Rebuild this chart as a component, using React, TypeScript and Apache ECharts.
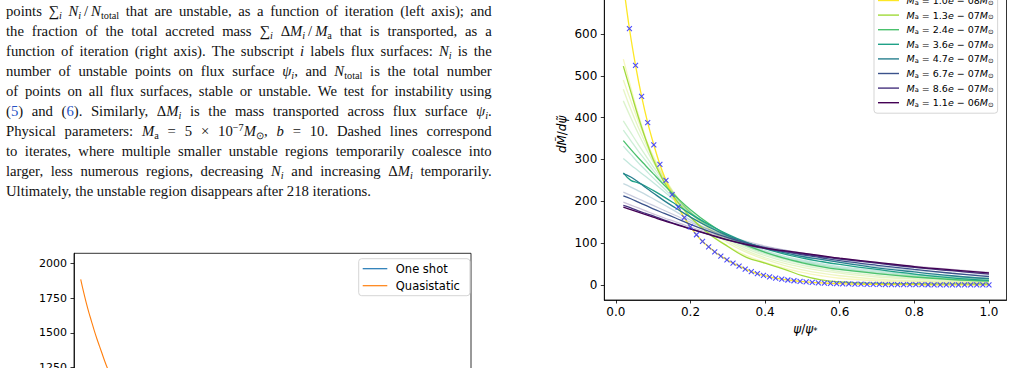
import React, { useEffect, useRef } from "react";
import * as echarts from "echarts";

// ---------- caption paragraph ----------
// markup: {i|..} italic, {s|..} roman subscript, {si|..} italic subscript,
// {p|..} superscript, {b|..} link-blue reference number
const CAPTION_LINES = [
  "points ∑{si|i} {i|N}{si|i}\u2009/\u2009{i|N}{s|total} that are unstable, as a function of iteration (left axis); and",
  "the fraction of the total accreted mass ∑{si|i} Δ{i|M}{si|i}\u2009/\u2009{i|M}{s|a} that is transported, as a",
  "function of iteration (right axis). The subscript {i|i} labels flux surfaces: {i|N}{si|i} is the",
  "number of unstable points on flux surface {i|ψ}{si|i}, and {i|N}{s|total} is the total number",
  "of points on all flux surfaces, stable or unstable. We test for instability using",
  "({b|5}) and ({b|6}). Similarly, Δ{i|M}{si|i} is the mass transported across flux surface {i|ψ}{si|i}.",
  "Physical parameters: {i|M}{s|a} = 5 × 10{p|−7}{i|M}{s|⊙}, {i|b} = 10. Dashed lines correspond",
  "to iterates, where multiple smaller unstable regions temporarily coalesce into",
  "larger, less numerous regions, decreasing {i|N}{si|i} and increasing Δ{i|M}{si|i} temporarily.",
  "Ultimately, the unstable region disappears after 218 iterations.",
];

// ---------- left panel: unstable points vs iteration ----------
const ITERATIONS = [0, 2, 4, 6, 8, 10, 12, 14, 16, 18, 20, 22, 24, 26];
const QUASISTATIC = [1885, 1800, 1722, 1650, 1585, 1520, 1460, 1405, 1350, 1295, 1245, 1200, 1155, 1115];
const ONE_SHOT: number[][] = [];
const ITER_Y_TICKS = [0, 250, 500, 750, 1000, 1250, 1500, 1750, 2000];

// ---------- right panel: dM/dψ profiles ----------
const PSI = [0.02, 0.04, 0.06, 0.08, 0.1, 0.13, 0.16, 0.2, 0.25, 0.3, 0.35, 0.4, 0.45, 0.5, 0.55, 0.6, 0.7, 0.8, 0.9, 1.0];

const MASS_LABELS = ["1.0e-08", "1.3e-07", "2.4e-07", "3.6e-07", "4.7e-07", "6.7e-07", "8.6e-07", "1.1e-06"];
const MASS_COLORS = ["#fde725", "#a0da39", "#4ac16d", "#1fa187", "#277f8e", "#3b528b", "#46327e", "#440154"];

const PROFILE_13E07 = [523, 462, 402, 348, 300, 245, 205, 162, 122, 92, 66, 52, 38, 22, 12, 7, 4, 3, 2.5, 2.2];
const PROFILE_24E07 = [345, 324, 304, 285, 266, 238, 212, 180, 146, 118, 95, 78, 64, 53, 44, 37, 27, 19, 13, 9];
const PROFILE_36E07 = [268, 250, 244, 236, 226, 210, 193, 170, 144, 121, 102, 87, 74, 64, 56, 49, 37, 26, 17, 11];
const PROFILE_47E07 = [266, 258, 246, 233, 220, 201, 184, 162, 138, 118, 101, 88, 77, 68, 61, 54, 41, 31, 22, 15];
const PROFILE_67E07 = [213, 206, 198, 190, 182, 171, 160, 145, 128, 113, 100, 89, 80, 72, 65, 58, 47, 37, 28, 20];
const PROFILE_86E07 = [190, 184, 177, 171, 165, 155, 146, 134, 120, 107, 96, 87, 80, 74, 68, 62, 52, 42, 34, 26];
const PROFILE_11E06 = [186, 180, 174, 168, 162, 153, 145, 134, 121, 108, 97, 88, 82, 76, 70, 64, 54, 44, 36, 29];

// lightest accretion: dense sampling, drawn as a line and as cross markers
const PROFILE_10E08 = [
  720, 613, 525, 451, 388, 335, 288, 250, 216, 186,
  161, 139, 120, 104, 91, 79, 69, 60, 52, 45,
  38, 32, 27, 23, 19.5, 16.5, 14, 11.8, 10, 8.5,
  7.2, 6.1, 5.2, 4.4, 3.7, 3.2, 2.7, 2.3, 2.0, 1.7,
  1.5, 1.3, 1.1, 1.0, 0.9, 0.8, 0.7, 0.6, 0.55, 0.5,
  0.45, 0.4, 0.38, 0.35, 0.33, 0.3, 0.28, 0.26, 0.25, 0.24, 0.23,
];
const PSI_FINE = PROFILE_10E08.map((_, k) => +(0.02 + (k * 0.98) / (PROFILE_10E08.length - 1)).toFixed(4));

// intermediate iterates (faint)
const ITERATE_COLORS = ["#e2e418", "#c2df23", "#a8db34", "#86d549", "#65cb5e", "#48c16e", "#2fb47c", "#23a983", "#2a788e", "#3e4989", "#482878"];
const ITERATE_PROFILES = [
  [540, 472, 408, 352, 303, 248, 206, 163, 124, 93, 70, 54, 41, 30, 22, 16, 10, 7, 5, 4],
  [490, 440, 392, 348, 308, 257, 215, 172, 133, 101, 78, 61, 47, 36, 28, 22, 14, 10, 7, 6],
  [468, 420, 377, 338, 301, 254, 214, 173, 135, 105, 82, 65, 52, 42, 34, 28, 19, 14, 10, 8],
  [440, 400, 362, 327, 294, 250, 212, 173, 138, 109, 87, 70, 57, 47, 39, 32, 23, 17, 13, 10],
  [392, 364, 336, 309, 283, 246, 212, 175, 141, 113, 91, 74, 61, 51, 43, 36, 27, 20, 15, 12],
  [370, 345, 320, 297, 274, 240, 209, 174, 141, 114, 93, 77, 64, 54, 46, 39, 29, 22, 17, 14],
  [332, 312, 292, 274, 256, 230, 204, 172, 141, 115, 95, 79, 66, 56, 48, 41, 31, 24, 19, 15],
  [302, 287, 273, 259, 245, 223, 200, 170, 141, 117, 98, 82, 69, 59, 51, 44, 34, 26, 21, 17],
  [242, 234, 225, 216, 206, 191, 176, 155, 132, 114, 99, 87, 77, 68, 61, 55, 44, 35, 28, 22],
  [222, 214, 206, 198, 190, 178, 166, 150, 132, 117, 104, 93, 84, 76, 69, 63, 52, 42, 34, 27],
  [198, 191, 184, 177, 170, 160, 151, 138, 124, 111, 100, 91, 83, 76, 70, 64, 54, 45, 37, 30],
];

const FLUX_X_TICKS = [0, 0.2, 0.4, 0.6, 0.8, 1.0];
const FLUX_Y_TICKS = [0, 100, 200, 300, 400, 500, 600];

// ---------- caption layout ----------
const SERIF = '"Liberation Serif", "Times New Roman", serif';
const TEXT_SIZE = 14.7;
const TEXT_LEFT = 6;
const TEXT_RIGHT = 491.7;
const FIRST_BASELINE = 16;
const LEADING = 20;
const CENTRAL = 0.3375; // central baseline above alphabetic, in em

const SEG: Record<string, { italic: boolean; scale: number; dy: number; color: string }> = {
  r: { italic: false, scale: 1, dy: 0, color: "#111" },
  i: { italic: true, scale: 1, dy: 0, color: "#111" },
  s: { italic: false, scale: 0.7, dy: 3, color: "#111" },
  si: { italic: true, scale: 0.7, dy: 3, color: "#111" },
  p: { italic: false, scale: 0.7, dy: -5.5, color: "#111" },
  b: { italic: false, scale: 1, dy: 0, color: "#2452c4" },
};

function captionElements() {
  const ctx = document.createElement("canvas").getContext("2d")!;
  const fontOf = (k: string) => {
    const st = SEG[k];
    return `${st.italic ? "italic " : ""}${(TEXT_SIZE * st.scale).toFixed(2)}px ${SERIF}`;
  };
  const measure = (k: string, t: string) => {
    ctx.font = fontOf(k);
    return ctx.measureText(t).width;
  };
  const parse = (word: string) => {
    const out: { k: string; t: string }[] = [];
    const re = /\{(\w+)\|([^}]*)\}|([^{]+)/g;
    let m: RegExpExecArray | null;
    while ((m = re.exec(word))) {
      if (m[3] !== undefined) out.push({ k: "r", t: m[3] });
      else out.push({ k: m[1], t: m[2] });
    }
    return out;
  };
  const els: any[] = [];
  CAPTION_LINES.forEach((line, li) => {
    const words = line.split(" ").map(parse);
    const widths = words.map((segs) => segs.reduce((a, s) => a + measure(s.k, s.t), 0));
    const total = widths.reduce((a, b) => a + b, 0);
    const last = li === CAPTION_LINES.length - 1;
    const gap = last ? measure("r", " ") : (TEXT_RIGHT - TEXT_LEFT - total) / (words.length - 1);
    const baseline = FIRST_BASELINE + li * LEADING;
    let x = TEXT_LEFT;
    words.forEach((segs, wi) => {
      let sx = x;
      segs.forEach((s) => {
        const st = SEG[s.k];
        const size = TEXT_SIZE * st.scale;
        els.push({
          type: "text",
          silent: true,
          x: sx,
          y: baseline + st.dy - CENTRAL * size,
          style: { text: s.t, font: fontOf(s.k), fill: st.color, align: "left", verticalAlign: "middle" },
        });
        sx += measure(s.k, s.t);
      });
      x += widths[wi] + gap;
    });
  });
  return els;
}

function massLegendLabel(name: string) {
  const [mant, exp] = name.split("e-");
  return `{i|M}{s|a}{r| = ${mant}}{i|e}{r| − ${exp}}{i|M}{s|⊙}`;
}

function buildOption() {
  const sans = "DejaVu Sans";
  const axisLine = { show: true, onZero: false, lineStyle: { color: "#000", width: 0.8 } };
  const pairs = (xs: number[], ys: number[]) => ys.map((v, i) => [xs[i], v]);

  const iterateSeries = ITERATE_PROFILES.map((ys, i) => ({
    type: "line",
    name: `iterate ${i + 1}`,
    xAxisIndex: 1,
    yAxisIndex: 1,
    data: pairs(PSI, ys),
    symbol: "none",
    smooth: 0.4,
    lineStyle: { color: ITERATE_COLORS[i], width: 1.3, opacity: 0.28 },
    itemStyle: { color: ITERATE_COLORS[i] },
    silent: true,
  }));

  const mainProfiles = [
    pairs(PSI_FINE, PROFILE_10E08),
    pairs(PSI, PROFILE_13E07),
    pairs(PSI, PROFILE_24E07),
    pairs(PSI, PROFILE_36E07),
    pairs(PSI, PROFILE_47E07),
    pairs(PSI, PROFILE_67E07),
    pairs(PSI, PROFILE_86E07),
    pairs(PSI, PROFILE_11E06),
  ];
  const massSeries = MASS_LABELS.map((name, i) => ({
    type: "line",
    name,
    xAxisIndex: 1,
    yAxisIndex: 1,
    data: mainProfiles[i],
    symbol: "none",
    smooth: 0.4,
    lineStyle: { color: MASS_COLORS[i], width: 1.3 },
    itemStyle: { color: MASS_COLORS[i] },
    silent: true,
  }));

  return {
    animation: false,
    backgroundColor: "#fff",
    textStyle: { fontFamily: sans },
    graphic: { elements: captionElements() },
    grid: [
      { left: 74, top: 253.3, width: 397, height: 399.8, show: true, borderColor: "#000", borderWidth: 0.8, outerBoundsMode: "none" },
      { left: 604.3, top: -31.3, width: 402.2, height: 331.3, show: true, borderColor: "#000", borderWidth: 0.8, outerBoundsMode: "none" },
    ],
    xAxis: [
      { gridIndex: 0, type: "value", min: -5, max: 291, show: false },
      {
        gridIndex: 1,
        type: "value",
        min: -0.031,
        max: 1.047,
        axisLine,
        axisTick: { show: true, length: 3.5, customValues: FLUX_X_TICKS, lineStyle: { color: "#000", width: 0.8 } },
        axisLabel: { customValues: FLUX_X_TICKS, formatter: (v: number) => v.toFixed(1), fontSize: 12, color: "#000", margin: 6 },
        splitLine: { show: false },
        name: "{i|ψ}{r|/}{i|ψ}{s|*}",
        nameLocation: "middle",
        nameGap: 21,
        nameTextStyle: {
          rich: {
            i: { fontStyle: "italic", fontSize: 12, color: "#000", lineHeight: 14 },
            r: { fontSize: 12, color: "#000", lineHeight: 14 },
            s: { fontSize: 8.5, color: "#000", lineHeight: 8, verticalAlign: "bottom" },
          },
        },
      },
    ],
    yAxis: [
      {
        gridIndex: 0,
        type: "value",
        min: -800,
        max: 2072,
        axisLine,
        axisTick: { show: true, length: 3.5, customValues: ITER_Y_TICKS, lineStyle: { color: "#000", width: 0.8 } },
        axisLabel: { customValues: ITER_Y_TICKS, formatter: (v: number) => String(v), fontSize: 11, color: "#000", margin: 7 },
        splitLine: { show: false },
      },
      {
        gridIndex: 1,
        type: "value",
        min: -36,
        max: 756,
        axisLine,
        axisTick: { show: true, length: 3.5, customValues: FLUX_Y_TICKS, lineStyle: { color: "#000", width: 0.8 } },
        axisLabel: { customValues: FLUX_Y_TICKS, formatter: (v: number) => String(v), fontSize: 12, color: "#000", margin: 7 },
        splitLine: { show: false },
        name: "{i|dM\u0303}{r|/}{i|dψ\u0303}",
        nameLocation: "middle",
        nameRotate: 90,
        nameGap: 36,
        nameTextStyle: {
          rich: {
            i: { fontStyle: "italic", fontSize: 12, color: "#000" },
            r: { fontSize: 12, color: "#000" },
          },
        },
      },
    ],
    legend: [
      {
        data: ["One shot", "Quasistatic"],
        orient: "vertical",
        left: 358.7,
        top: 258.7,
        padding: [4, 4, 4, 4],
        icon: "rect",
        itemWidth: 24.6,
        itemHeight: 1.2,
        itemGap: 5,
        backgroundColor: "rgba(255,255,255,0.8)",
        borderColor: "#d5d5d5",
        borderWidth: 1,
        borderRadius: 3,
        selectedMode: false,
        textStyle: { fontFamily: sans, fontSize: 11.5, color: "#000", lineHeight: 12, padding: [0, 6, 0, 3.5] },
      },
      {
        data: MASS_LABELS,
        orient: "vertical",
        left: 874,
        top: -9.5,
        padding: [5, 4, 5, 4],
        icon: "rect",
        itemWidth: 21,
        itemHeight: 1.4,
        itemGap: 4.1,
        backgroundColor: "rgba(255,255,255,0.8)",
        borderColor: "#d5d5d5",
        borderWidth: 1,
        borderRadius: 3,
        selectedMode: false,
        formatter: massLegendLabel,
        textStyle: {
          padding: [0, 2, 0, 2.5],
          rich: {
            i: { fontFamily: sans, fontStyle: "italic", fontSize: 9.5, lineHeight: 11, color: "#000" },
            r: { fontFamily: sans, fontSize: 9.5, lineHeight: 11, color: "#000" },
            s: { fontFamily: sans, fontSize: 6.7, lineHeight: 5, verticalAlign: "bottom", color: "#000" },
          },
        },
      },
    ],
    series: [
      {
        type: "line",
        name: "One shot",
        xAxisIndex: 0,
        yAxisIndex: 0,
        data: ONE_SHOT,
        symbol: "none",
        lineStyle: { color: "#1f77b4", width: 1.1 },
        itemStyle: { color: "#1f77b4" },
      },
      {
        type: "line",
        name: "Quasistatic",
        xAxisIndex: 0,
        yAxisIndex: 0,
        data: pairs(ITERATIONS, QUASISTATIC),
        symbol: "none",
        smooth: 0.3,
        lineStyle: { color: "#ff7f0e", width: 1.1 },
        itemStyle: { color: "#ff7f0e" },
      },
      ...iterateSeries,
      ...massSeries,
      {
        type: "scatter",
        name: "analytic",
        xAxisIndex: 1,
        yAxisIndex: 1,
        data: pairs(PSI_FINE, PROFILE_10E08),
        symbol: "path://M0,0L5,5M5,0L0,5",
        symbolSize: 5,
        itemStyle: { color: "none", borderColor: "#3a3aff", borderWidth: 1.1, opacity: 0.9 },
        silent: true,
        z: 5,
      },
    ],
  };
}

export default function App() {
  const ref = useRef<HTMLDivElement>(null);
  useEffect(() => {
    const chart = echarts.init(ref.current!, null, { renderer: "svg" });
    chart.setOption(buildOption() as any);
    return () => chart.dispose();
  }, []);
  return (
    <div
      ref={ref}
      style={{ position: "fixed", left: 0, top: 0, width: 1015, height: 368, background: "#fff" }}
    />
  );
}
